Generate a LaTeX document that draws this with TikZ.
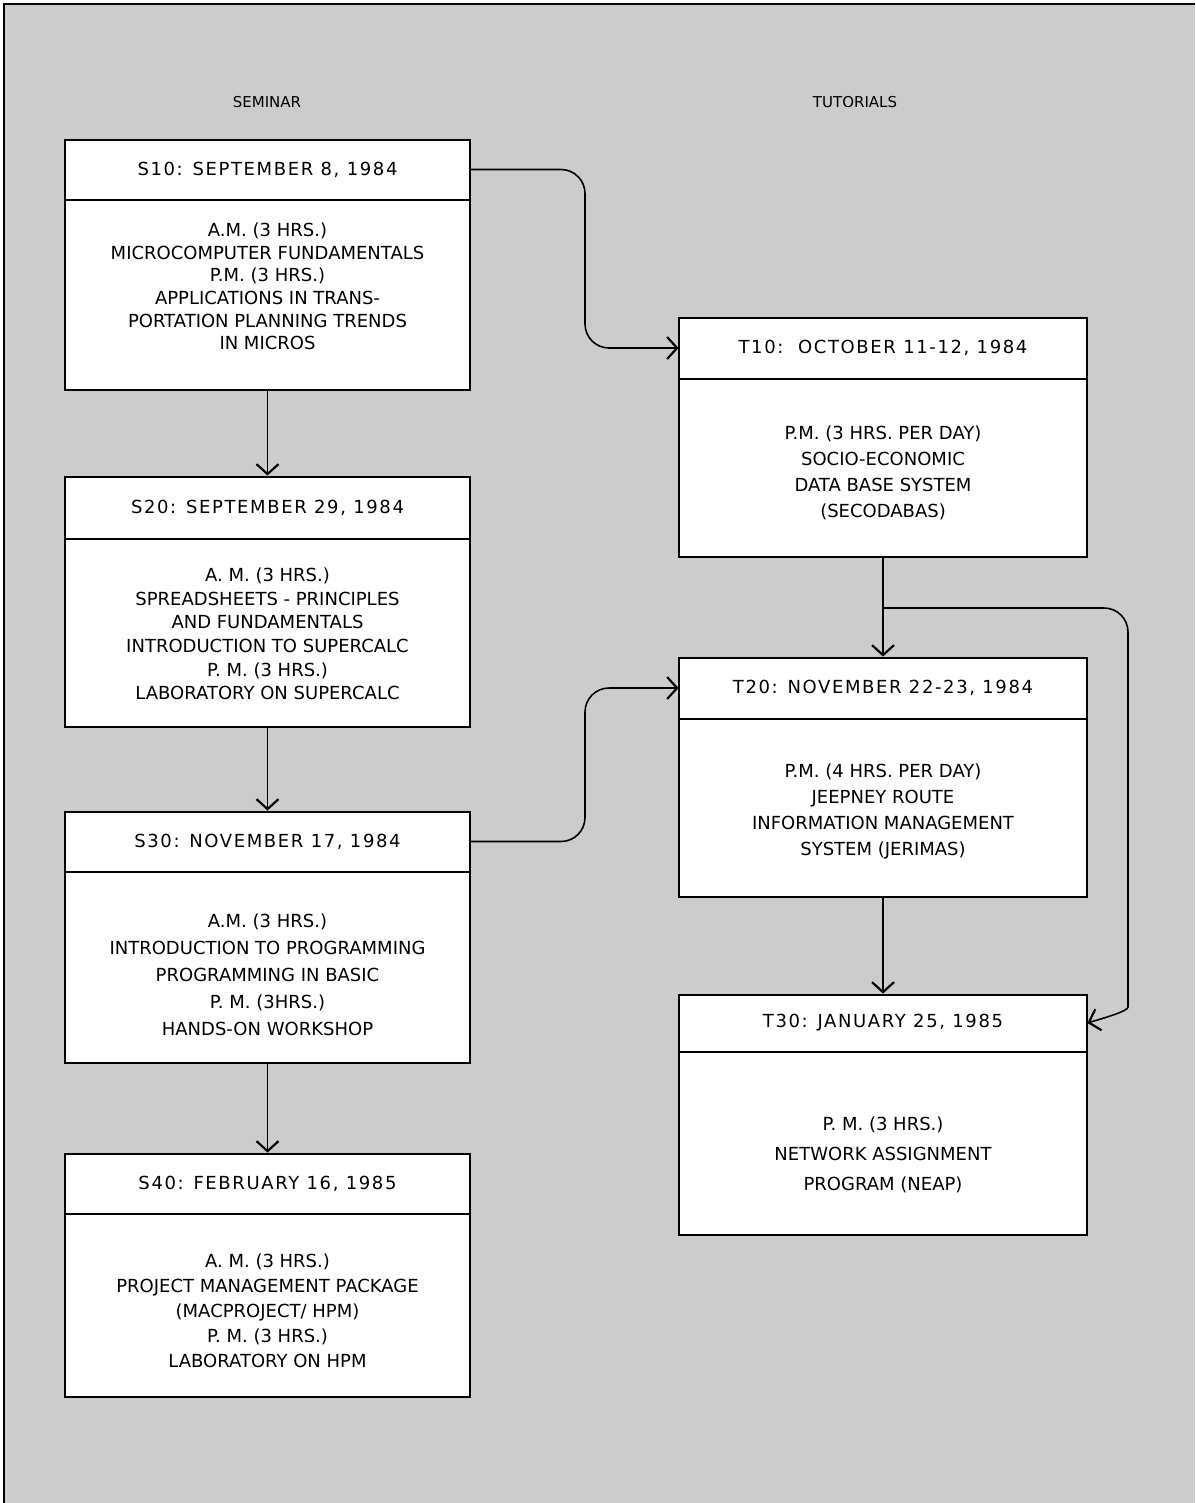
\documentclass[tikz,border=0pt]{standalone}
\usepackage{fontspec}
\setmainfont{DejaVu Sans}
\newfontfamily\hdrfont[LetterSpace=9]{DejaVu Sans}
\usetikzlibrary{arrows.meta,calc}
\begin{document}
\begin{tikzpicture}[x=0.5pt,y=-0.5pt,
  bg/.style={fill=black!20},
  frame/.style={line width=1.1pt},
  lbox/.style={draw, fill=white, line width=1.4pt, inner sep=0pt, minimum width=202.5pt},
  rbox/.style={draw, fill=white, line width=1.4pt, inner sep=0pt, minimum width=204pt},
  lhdr/.style={inner sep=0pt, minimum width=202.5pt, minimum height=30.5pt, anchor=north, font=\hdrfont\fontsize{9}{11}\selectfont},
  rhdr/.style={inner sep=0pt, minimum width=204pt, minimum height=31pt, anchor=north, font=\hdrfont\fontsize{9}{11}\selectfont},
  body/.style={inner sep=0pt, align=center, font=\fontsize{9}{#1}\selectfont},
  div/.style={line width=1pt},
  colhead/.style={font=\fontsize{7.5}{9}\selectfont, inner sep=0pt},
  conn/.style={line width=0.8pt, -{Straight Barb[length=5pt,width=11pt,line width=1.1pt]}}
]
\useasboundingbox (0,0) rectangle (1195,1503);
\fill[bg] (4,4) rectangle (1195,1503);
\draw[frame] (4,1503) -- (4,4) -- (1195,4);

% column headings
\node[colhead] (semh) at (267,102) {SEMINAR};
\node[colhead] (tuth) at (855,102) {TUTORIALS};

% ---------- seminar boxes ----------
\node[lbox, minimum height=125pt] (s1) at (267.5,265) {};
\node[lhdr] (s1h) at (s1.north) {S10: SEPTEMBER 8, 1984};
\draw[div] (s1h.south west) -- (s1h.south east);
\node[body=11.3pt] (s1b) at (267.5,286.5) {A.M. (3 HRS.)\\MICROCOMPUTER FUNDAMENTALS\\P.M. (3 HRS.)\\APPLICATIONS IN TRANS-\\PORTATION PLANNING TRENDS\\IN MICROS};

\node[lbox, minimum height=125pt] (s2) at (267.5,602) {};
\node[lhdr, minimum height=31.5pt] (s2h) at (s2.north) {S20: SEPTEMBER 29, 1984};
\draw[div] (s2h.south west) -- (s2h.south east);
\node[body=11.8pt] (s2b) at (267.5,634) {A. M. (3 HRS.)\\SPREADSHEETS - PRINCIPLES\\AND FUNDAMENTALS\\INTRODUCTION TO SUPERCALC\\P. M. (3 HRS.)\\LABORATORY ON SUPERCALC};

\node[lbox, minimum height=125.5pt] (s3) at (267.5,937.5) {};
\node[lhdr] (s3h) at (s3.north) {S30: NOVEMBER 17, 1984};
\draw[div] (s3h.south west) -- (s3h.south east);
\node[body=13.5pt] (s3b) at (267.5,975) {A.M. (3 HRS.)\\INTRODUCTION TO PROGRAMMING\\PROGRAMMING IN BASIC\\P. M. (3HRS.)\\HANDS-ON WORKSHOP};

\node[lbox, minimum height=121.5pt] (s4) at (267.5,1275.5) {};
\node[lhdr] (s4h) at (s4.north) {S40: FEBRUARY 16, 1985};
\draw[div] (s4h.south west) -- (s4h.south east);
\node[body=12.5pt] (s4b) at (267.5,1311) {A. M. (3 HRS.)\\PROJECT MANAGEMENT PACKAGE\\(MACPROJECT/ HPM)\\P. M. (3 HRS.)\\LABORATORY ON HPM};

% ---------- tutorial boxes ----------
\node[rbox, minimum height=119.5pt] (t1) at (883,437.5) {};
\node[rhdr] (t1h) at (t1.north) {T10:\ \ OCTOBER 11-12, 1984};
\draw[div] (t1h.south west) -- (t1h.south east);
\node[body=13pt] (t1b) at (883,473) {P.M. (3 HRS. PER DAY)\\SOCIO-ECONOMIC\\DATA BASE SYSTEM\\(SECODABAS)};

\node[rbox, minimum height=119.5pt] (t2) at (883,777.5) {};
\node[rhdr] (t2h) at (t2.north) {T20: NOVEMBER 22-23, 1984};
\draw[div] (t2h.south west) -- (t2h.south east);
\node[body=13pt] (t2b) at (883,811) {P.M. (4 HRS. PER DAY)\\JEEPNEY ROUTE\\INFORMATION MANAGEMENT\\SYSTEM (JERIMAS)};

\node[rbox, minimum height=120pt] (t3) at (883,1115) {};
\node[rhdr, minimum height=29pt] (t3h) at (t3.north) {T30: JANUARY 25, 1985};
\draw[div] (t3h.south west) -- (t3h.south east);
\node[body=15pt] (t3b) at (883,1155) {P. M. (3 HRS.)\\NETWORK ASSIGNMENT\\PROGRAM (NEAP)};

% ---------- connectors ----------
\draw[conn] (s1) -- (s2);
\draw[conn] (s2) -- (s3);
\draw[conn] (s3) -- (s4);
\draw[conn] (t1) -- (t2);
\draw[conn] (t2) -- (t3);

\coordinate (j1) at (585,0);
\coordinate (j2) at (1128,0);
\coordinate (br) at (883,608);

\draw[conn, rounded corners=12pt] (s1h.east) -| (j1 |- t1h.west) -- (t1h.west);
\draw[conn, rounded corners=12pt] (s3h.east) -| (j1 |- t2h.west) -- (t2h.west);
\draw[conn, rounded corners=12pt] (br) -- (j2 |- br) -- ($(j2 |- t3h.east)+(0,-40)$)
   .. controls ($(j2 |- t3h.east)+(0,-12)$) and ($(t3h.east)+(20,-6)$) .. (t3h.east);
\end{tikzpicture}
\end{document}
